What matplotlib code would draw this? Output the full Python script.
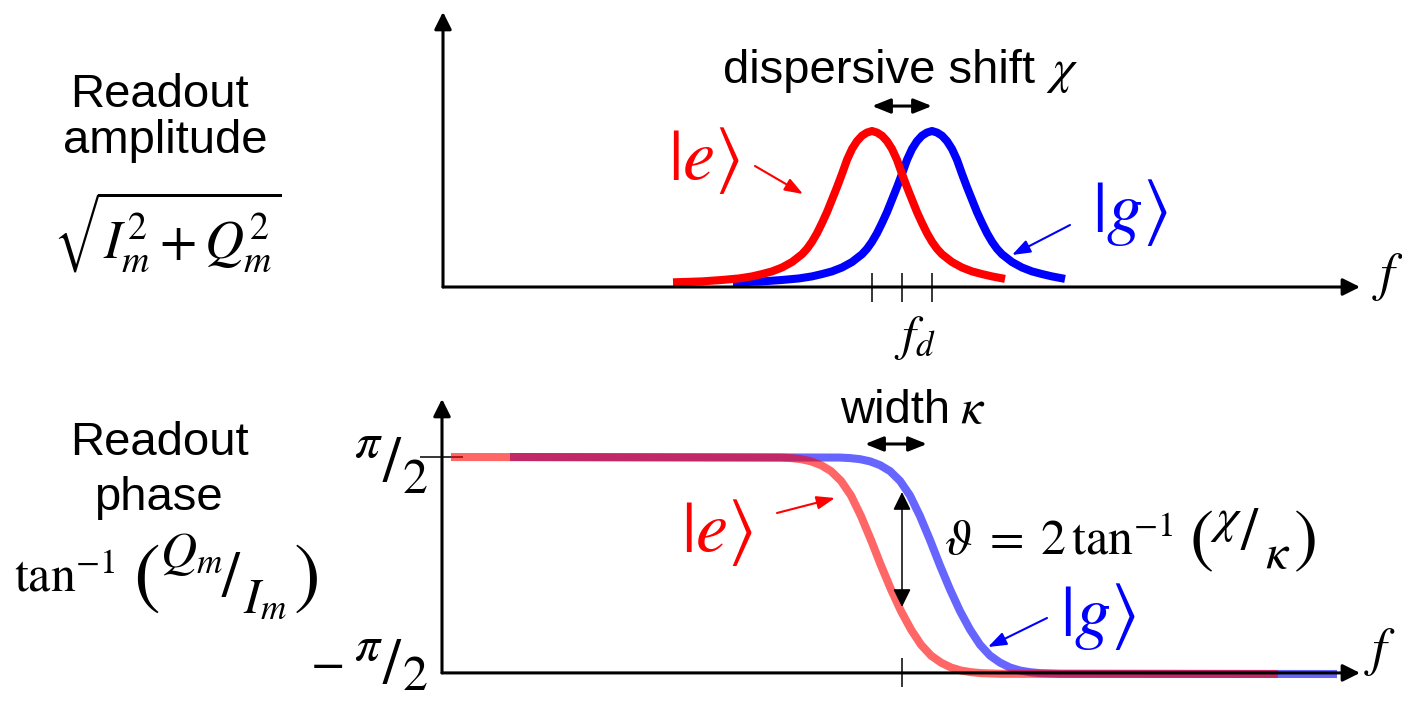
import numpy as np
import matplotlib.pyplot as plt

plt.rcParams["font.family"] = ["Liberation Sans", "DejaVu Sans"]
plt.rcParams["mathtext.fontset"] = "stix"

W, H = 1402, 701

# drive frequency and the two dressed resonator frequencies
f_d = 0.0
f_e = -3.0
f_g = 3.0

# amplitude around each resonance (peak normalised to 1)
amp_detuning = [-19.9, -17, -15, -13.3, -12, -11, -10, -9, -8, -7, -6.5, -6, -5.5, -5, -4.5, -4, -3.5,
                -3, -2.5, -2, -1.5, -1, -0.5, 0, 0.5, 1, 1.5, 2, 2.5, 3, 3.5, 4, 4.5, 5, 5.5, 6, 6.5,
                7, 8, 9, 10, 11, 12, 13.3]
amp_profile = [0.03, 0.036, 0.045, 0.055, 0.068, 0.083, 0.10, 0.125, 0.16, 0.21, 0.245, 0.29, 0.345,
               0.41, 0.48, 0.56, 0.64, 0.725, 0.815, 0.885, 0.935, 0.97, 0.99, 1.0, 0.99, 0.97, 0.935,
               0.885, 0.815, 0.725, 0.64, 0.56, 0.48, 0.41, 0.345, 0.29, 0.245, 0.21, 0.16, 0.125,
               0.10, 0.083, 0.068, 0.052]

# phase step, in units of pi/2, around the centre of each step
phase_center_e = -2.1
phase_center_g = 3.8
phase_detuning = [-43, -10, -9, -8, -7, -6, -5, -4, -3, -2, -1, 0, 1, 2, 3, 4, 5, 6, 7, 8, 9, 10, 12, 39.7]
phase_profile = [1.0, 0.995, 0.99, 0.98, 0.96, 0.925, 0.87, 0.78, 0.645, 0.455, 0.235, 0.0,
                 -0.22, -0.42, -0.59, -0.73, -0.83, -0.895, -0.94, -0.968, -0.983, -0.992, -0.998, -1.0]

# annotation extents
chi_level = 1.16
kappa_span = (-3.7, 2.5)
kappa_level = 1.12
theta_span = (0.677, -0.382)

RED = "#ff0000"
BLUE = "#0000ff"
LW = 5.8


def px(x, y):
    return x / W, 1 - y / H


def arrow(ax, start, end, style, lw, coords="data", color="k", ms=20):
    ax.annotate("", xy=end, xytext=start, xycoords=coords, textcoords=coords,
                arrowprops=dict(arrowstyle=style, color=color, lw=lw, mutation_scale=ms,
                                shrinkA=0, shrinkB=0))


def fig_arrow(ax, start, end, color):
    arrow(ax, (start[0], H - start[1]), (end[0], H - end[1]),
          "-|>,head_length=0.55,head_width=0.2", 1.5, coords="figure pixels", color=color)


fig = plt.figure(figsize=(W / 100, H / 100), dpi=100)
ax_amp = fig.add_axes([0, 0.5, 1, 0.5])
ax_ph = fig.add_axes([0, 0, 1, 0.5])
for ax in (ax_amp, ax_ph):
    ax.set_axis_off()
    ax.set_xlim(-90.2, 50.0)
ax_amp.set_ylim(-0.407, 1.8397)
ax_ph.set_ylim(-1.2488, 1.9816)

# ---- amplitude panel ----
x0 = -45.9
arrow(ax_amp, (x0, 0), (x0, 1.763), "-|>", 2.2, ms=26)
arrow(ax_amp, (x0, 0), (45.8, 0), "-|>", 2.2, ms=26)

d = np.array(amp_detuning)
ax_amp.plot(f_g + d, amp_profile, color=BLUE, lw=LW, solid_capstyle="butt")
ax_amp.plot(f_e + d, amp_profile, color=RED, lw=LW, solid_capstyle="butt")

ax_amp.vlines([f_e, f_d, f_g], -0.096, 0.09, color="k", lw=1.1)
arrow(ax_amp, (f_e, chi_level), (f_g, chi_level), "<|-|>,head_length=0.55,head_width=0.22", 2.2)

# ---- phase panel ----
x0 = -46.0
arrow(ax_ph, (x0, -0.99), (x0, 1.535), "-|>", 2.2, ms=26)
arrow(ax_ph, (x0, -0.99), (45.8, -0.99), "-|>", 2.2, ms=26)
ax_ph.hlines(1.0, -48.2, -43.9, color="k", lw=1.1)

d = np.array(phase_detuning)
ax_ph.plot(phase_center_g + d, phase_profile, color=BLUE, alpha=0.6, lw=LW, solid_capstyle="butt")
ax_ph.plot(phase_center_e + d, phase_profile, color=RED, alpha=0.6, lw=LW, solid_capstyle="butt")

ax_ph.vlines([f_d], -1.12, -0.853, color="k", lw=1.1)
arrow(ax_ph, (kappa_span[0], kappa_level), (kappa_span[1], kappa_level),
      "<|-|>,head_length=0.55,head_width=0.22", 2.2)
arrow(ax_ph, (f_d, theta_span[0]), (f_d, theta_span[1]),
      "<|-|>,head_length=0.55,head_width=0.27", 1.1)

# ---- labels ----
SANS = 34
MATH = 36
KET = 52
fig.text(*px(159, 107), "Readout", fontsize=SANS, ha="center", va="baseline")
fig.text(*px(165, 153), "amplitude", fontsize=SANS, ha="center", va="baseline")
fig.text(*px(167, 258), r"$\sqrt{I_m^2 + Q_m^2}$", fontsize=39, ha="center", va="baseline")

fig.text(*px(159, 455), "Readout", fontsize=SANS, ha="center", va="baseline")
fig.text(*px(158, 510), "phase", fontsize=SANS, ha="center", va="baseline")
fig.text(*px(14, 592), r"$\tan^{-1}$", fontsize=MATH, ha="left", va="baseline")
fig.text(*px(146, 578), r"$($", fontsize=58, ha="center", va="center")
fig.text(*px(160, 567), r"$Q_m$", fontsize=MATH, ha="left", va="baseline")
fig.text(*px(231, 580), r"$/$", fontsize=46, ha="center", va="center")
fig.text(*px(243, 612), r"$I_m$", fontsize=MATH, ha="left", va="baseline")
fig.text(*px(305, 578), r"$)$", fontsize=58, ha="center", va="center")

# pi/2 and -pi/2 level labels
fig.text(*px(368, 457), r"$\pi$", fontsize=MATH, ha="center", va="baseline")
fig.text(*px(392, 465), r"$/$", fontsize=46, ha="center", va="center")
fig.text(*px(415, 493), r"$2$", fontsize=MATH, ha="center", va="baseline")
fig.text(*px(327, 664), r"$-$", fontsize=MATH, ha="center", va="center")
fig.text(*px(368, 660), r"$\pi$", fontsize=MATH, ha="center", va="baseline")
fig.text(*px(392, 667), r"$/$", fontsize=46, ha="center", va="center")
fig.text(*px(415, 690), r"$2$", fontsize=MATH, ha="center", va="baseline")

fig.text(*px(723, 83), "dispersive shift", fontsize=SANS, ha="left", va="baseline")
fig.text(*px(1062, 83), r"$\chi$", fontsize=MATH, ha="center", va="baseline")
fig.text(*px(915, 338), r"$f_d$", fontsize=MATH, ha="center", va="center")
fig.text(*px(1388, 277), r"$f$", fontsize=38, ha="center", va="center")
fig.text(*px(1380, 652), r"$f$", fontsize=38, ha="center", va="center")

fig.text(*px(840, 423), "width", fontsize=SANS, ha="left", va="baseline")
fig.text(*px(973, 423), r"$\kappa$", fontsize=MATH, ha="center", va="baseline")
fig.text(*px(944, 555), r"$\vartheta\;=\;2\,\tan^{-1}$", fontsize=MATH, ha="left", va="baseline")
fig.text(*px(1201, 541), r"$($", fontsize=52, ha="center", va="center")
fig.text(*px(1226, 521), r"$\chi$", fontsize=MATH, ha="center", va="center")
fig.text(*px(1250, 535), r"$/$", fontsize=44, ha="center", va="center")
fig.text(*px(1278, 555), r"$\kappa$", fontsize=MATH, ha="center", va="center")
fig.text(*px(1304, 541), r"$)$", fontsize=52, ha="center", va="center")

fig.text(*px(704, 161), r"$|e\rangle$", fontsize=KET, color=RED, ha="center", va="center")
fig.text(*px(1130, 213), r"$|g\rangle$", fontsize=KET, color=BLUE, ha="center", va="center")
fig.text(*px(717, 533), r"$|e\rangle$", fontsize=KET, color=RED, ha="center", va="center")
fig.text(*px(1098, 616), r"$|g\rangle$", fontsize=KET, color=BLUE, ha="center", va="center")

fig_arrow(ax_amp, (755, 166), (803, 194), RED)
fig_arrow(ax_amp, (1070, 225), (1012, 255), BLUE)
fig_arrow(ax_ph, (777, 513), (835, 498), RED)
fig_arrow(ax_ph, (1047, 618), (988, 647), BLUE)

fig.savefig("out.png", dpi=100)
